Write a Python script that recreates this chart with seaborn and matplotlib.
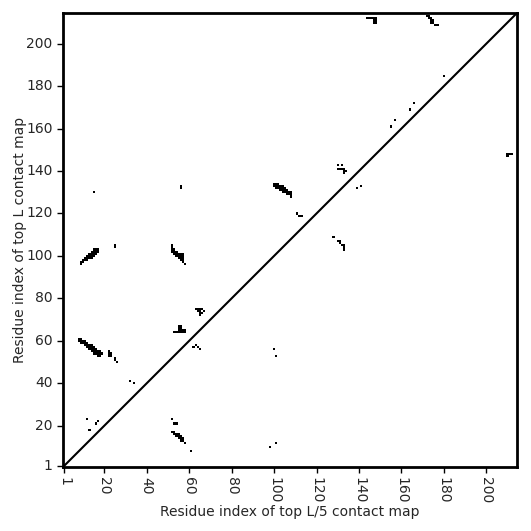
import numpy as np
import pandas as pd
import matplotlib
matplotlib.use("Agg")
import matplotlib.pyplot as plt
import seaborn as sns
from matplotlib.colors import ListedColormap

L = 214
tick_values = [1, 20, 40, 60, 80, 100, 120, 140, 160, 180, 200]

# contacts as (x residue, y residue), 1-based
contact_x = [
    # cluster A
    8, 8, 9, 9, 9, 10, 10, 11, 11, 11, 12, 12, 12, 13, 13, 13, 14, 14, 14, 14,
    15, 15, 15, 15, 16, 16, 16, 17, 17, 17, 18, 18, 18, 19, 22, 22, 22, 23, 23, 25, 25, 26,
    # cluster B
    9, 9, 10, 10, 11, 11, 12, 12, 12, 13, 13, 13, 14, 14, 14, 14, 15, 15, 15, 15,
    16, 16, 16, 17, 17,
    # D, C, K, J
    25, 25, 15, 12, 13, 16, 17, 32, 34,
    # E
    52, 52, 52, 52, 53, 53, 53, 54, 54, 54, 55, 55, 55, 56, 56, 56, 56,
    57, 57, 57, 57, 57, 58,
    # F
    55, 56, 55, 56, 55, 56, 53, 54, 55, 56, 57, 58, 57, 58,
    # G
    63, 64, 65, 66, 64, 65, 65, 65, 66, 67,
    # H, I
    62, 63, 64, 65, 56, 56,
    # lower-left band L
    52, 53, 54, 52, 53, 53, 54, 54, 55, 55, 55, 56, 56, 56, 57, 57, 58, 61,
    # M, N
    98, 101, 100, 101,
    # O
    100, 100, 101, 101, 101, 102, 102, 102, 103, 103, 103, 104, 104, 104, 104,
    105, 105, 105, 106, 106, 106, 107, 107, 108, 108, 108,
    # P
    111, 112, 113,
    # Q
    128, 130, 131, 131, 132, 133, 133, 133,
    # R
    130, 132, 130, 131, 132, 133, 133, 134, 133,
    # S
    139, 141,
    # T
    144, 145, 146, 147, 148, 147, 148, 147, 148,
    # U
    172, 173, 173, 174, 174, 175, 174, 175, 176, 177,
    # V, W
    180, 166, 164, 157, 155,
    # X
    210, 211, 212, 210,
]
contact_y = [
    # cluster A
    60, 61, 59, 60, 61, 59, 60, 58, 59, 60, 57, 58, 59, 56, 57, 58, 55, 56, 57, 58,
    54, 55, 56, 57, 54, 55, 56, 53, 54, 55, 53, 54, 55, 54, 53, 54, 55, 53, 54, 51, 52, 50,
    # cluster B
    96, 97, 97, 98, 98, 99, 98, 99, 100, 99, 100, 101, 99, 100, 101, 102, 100, 101, 102, 103,
    101, 102, 103, 102, 103,
    # D, C, K, J
    104, 105, 130, 23, 18, 21, 22, 41, 40,
    # E
    102, 103, 104, 105, 101, 102, 103, 100, 101, 102, 99, 100, 101, 98, 99, 100, 101,
    97, 98, 99, 100, 101, 96,
    # F
    67, 67, 66, 66, 65, 65, 64, 64, 64, 64, 64, 64, 65, 65,
    # G
    75, 75, 75, 75, 74, 74, 73, 72, 73, 74,
    # H, I
    57, 58, 57, 56, 133, 132,
    # lower-left band L
    23, 21, 21, 17, 16, 17, 15, 16, 14, 15, 16, 13, 14, 15, 13, 14, 12, 8,
    # M, N
    10, 12, 56, 53,
    # O
    133, 134, 132, 133, 134, 132, 133, 134, 131, 132, 133, 130, 131, 132, 133,
    130, 131, 132, 129, 130, 131, 129, 130, 128, 129, 130,
    # P
    120, 119, 119,
    # Q
    109, 107, 107, 106, 105, 105, 104, 103,
    # R
    143, 143, 141, 141, 141, 141, 140, 140, 139,
    # S
    132, 133,
    # T
    212, 212, 212, 212, 212, 211, 211, 210, 210,
    # U
    213, 213, 212, 212, 211, 211, 210, 210, 209, 209,
    # V, W
    185, 172, 169, 164, 161,
    # X
    148, 148, 148, 147,
]

mat = np.zeros((L, L))
for cx, cy in zip(contact_x, contact_y):
    mat[cy - 1, cx - 1] = 1
df = pd.DataFrame(mat, index=range(1, L + 1), columns=range(1, L + 1))

sns.set_style("white")
fig = plt.figure(figsize=(5.31, 5.31), dpi=100)
ax = fig.add_axes([63 / 531, 1 - 467 / 531, 454 / 531, 454 / 531])
sns.heatmap(df, cmap=ListedColormap(["white", "black"]), vmin=0, vmax=1,
            cbar=False, ax=ax, square=False, linewidths=0, rasterized=True)
ax.set_ylim(0, L)
ax.set_xlim(0, L)
ax.plot([0, L], [0, L], color="black", lw=1.5)

pos = [v - 0.5 for v in tick_values]
ax.set_xticks(pos)
ax.set_xticklabels([str(v) for v in tick_values], rotation=270, fontsize=10)
ax.set_yticks(pos)
ax.set_yticklabels([str(v) for v in tick_values], rotation=0, fontsize=10)
ax.tick_params(axis="both", which="both", length=4, width=1, direction="out",
               bottom=True, left=True, color="black")
for s in ax.spines.values():
    s.set_visible(True)
    s.set_color("black")
    s.set_linewidth(2)
ax.set_xlabel("Residue index of top L/5 contact map", fontsize=10, labelpad=0.5)
ax.set_ylabel("Residue index of top L contact map", fontsize=10, labelpad=-1)
fig.savefig("out.png", dpi=100)
